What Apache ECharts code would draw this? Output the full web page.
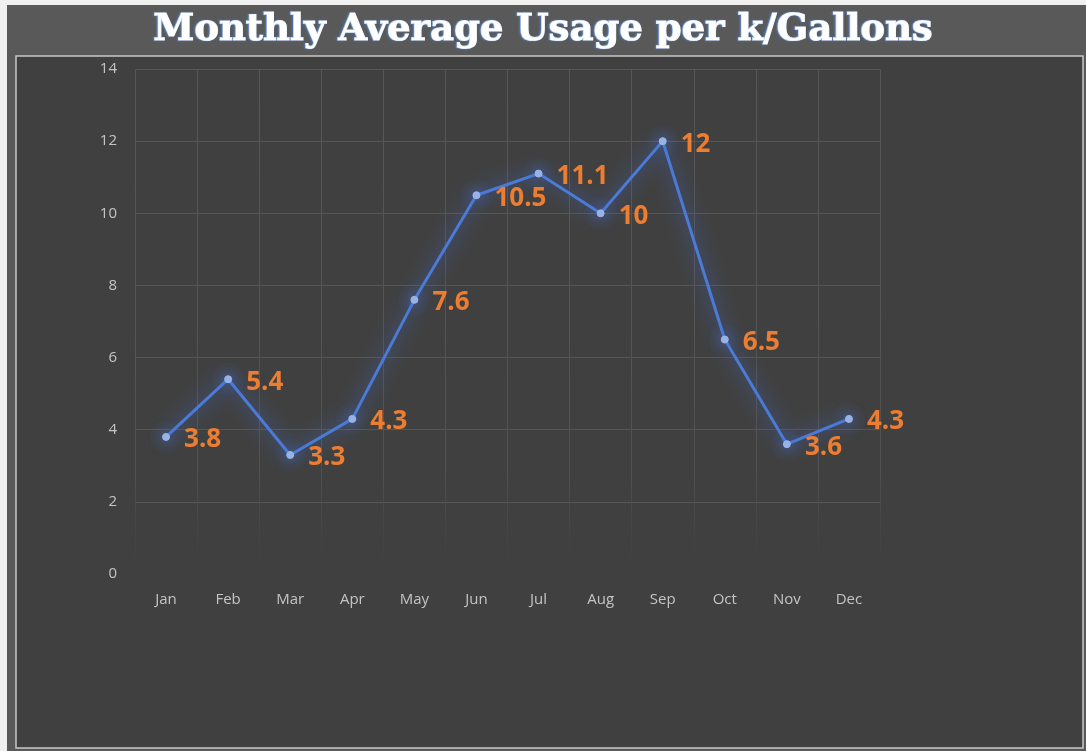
<!DOCTYPE html>
<html lang="en">
<head>
    <meta charset="UTF-8">
    <title>Monthly Average Usage</title>
    <script type="text/javascript" src="https://cdn.jsdelivr.net/npm/echarts@6/dist/echarts.min.js"></script>
    <style>
        html, body { margin: 0; padding: 0; background: #f0f0f0; }
        #chart { width: 1086px; height: 751px; }
    </style>
</head>
<body>
    <div id="chart"></div>
<script>
    // data
    var months = ['Jan', 'Feb', 'Mar', 'Apr', 'May', 'Jun', 'Jul', 'Aug', 'Sep', 'Oct', 'Nov', 'Dec']
    var usage = [3.8, 5.4, 3.3, 4.3, 7.6, 10.5, 11.1, 10, 12, 6.5, 3.6, 4.3]
    var yTicks = [0, 2, 4, 6, 8, 10, 12, 14]

    var chart = echarts.init(document.getElementById('chart'))

    // the 0 line is not drawn in the original
    var hLineColors = yTicks.map(function (v) { return v === 0 ? 'rgba(0,0,0,0)' : '#565656' })
    var vLineColor = new echarts.graphic.LinearGradient(0, 69, 0, 574, [
        { offset: 0, color: '#575757' },
        { offset: 0.8, color: '#525252' },
        { offset: 0.94, color: 'rgba(72,72,72,0.4)' },
        { offset: 1, color: 'rgba(64,64,64,0)' }
    ], true)

    chart.setOption({
        backgroundColor: '#f0f0f0',
        graphic: [
            {
                type: 'rect', z: -10, silent: true,
                shape: { x: 7, y: 5, width: 1079, height: 746 },
                style: { fill: '#595959' }
            },
            {
                type: 'rect', z: -9, silent: true,
                shape: { x: 16, y: 56, width: 1067, height: 692 },
                style: { fill: '#404040', stroke: '#c8c8c8', lineWidth: 1.5 }
            }
        ],
        title: {
            text: 'Monthly Average Usage per k/Gallons',
            left: 'center',
            top: 7,
            textStyle: {
                color: '#ffffff',
                fontFamily: 'DejaVu Serif',
                fontWeight: 'bold',
                fontSize: 37,
                textBorderColor: '#ffffff',
                textBorderWidth: 1.2,
                textShadowColor: 'rgba(80,140,230,0.6)',
                textShadowBlur: 2,
                textShadowOffsetX: -1
            }
        },
        grid: {
            left: 135,
            right: 206,
            top: 69,
            bottom: 177
        },
        xAxis: {
            type: 'category',
            data: months,
            boundaryGap: true,
            axisLine: { show: false },
            axisTick: { show: false },
            axisLabel: {
                color: '#c4c4c4',
                fontSize: 15,
                fontFamily: 'Open Sans',
                margin: 18
            },
            splitLine: {
                show: true,
                lineStyle: { color: vLineColor, width: 1 }
            }
        },
        yAxis: {
            type: 'value',
            min: 0,
            max: 14,
            interval: 2,
            axisLine: { show: false },
            axisTick: { show: false },
            axisLabel: {
                color: '#c4c4c4',
                fontSize: 15,
                fontFamily: 'Open Sans',
                margin: 18
            },
            splitLine: {
                lineStyle: { color: hLineColors, width: 1 }
            }
        },
        series: [{
            name: 'Usage',
            type: 'line',
            data: usage,
            symbol: 'circle',
            symbolSize: 7,
            itemStyle: {
                color: '#9bb6e8',
                borderColor: '#9bb6e8',
                shadowColor: 'rgba(70,120,230,1)',
                shadowBlur: 14
            },
            lineStyle: {
                color: '#4a7bd6',
                width: 3,
                shadowColor: 'rgba(60,110,230,1)',
                shadowBlur: 18
            },
            label: {
                show: true,
                position: 'right',
                distance: 14,
                offset: [0, 3],
                color: '#ed7d31',
                fontFamily: 'Open Sans',
                fontWeight: 'bold',
                fontSize: 26
            }
        }]
    })
</script>
</body>
</html>
